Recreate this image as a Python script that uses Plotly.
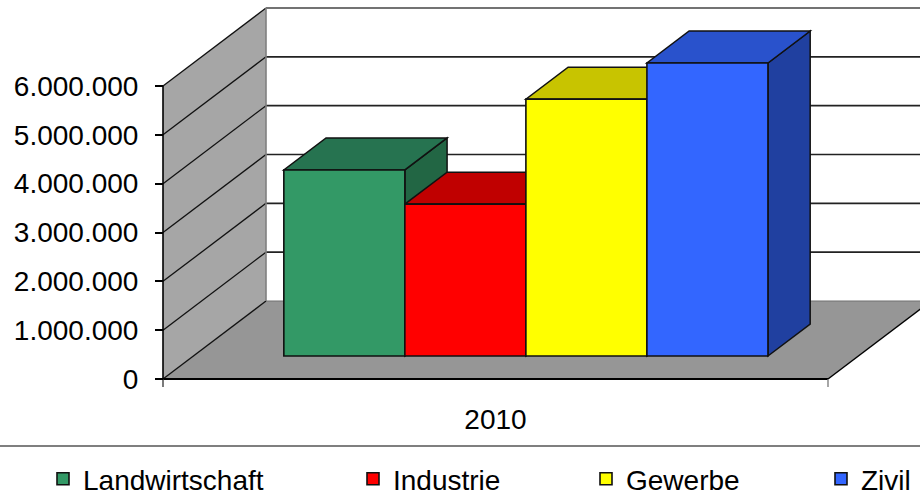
import plotly.graph_objects as go

# ---------------- data ----------------
CATEGORY = ["2010"]
SERIES = ["Landwirtschaft", "Industrie", "Gewerbe", "Zivil"]
VALUES = [3810000, 3110000, 5260000, 6000000]
TICK_VALUES = [0, 1000000, 2000000, 3000000, 4000000, 5000000, 6000000]
FRONT_COLORS = ["#339966", "#FF0000", "#FFFF00", "#3366FF"]
TOP_COLORS = ["#267350", "#C00000", "#C8C400", "#2952CC"]
SIDE_COLORS = ["#226644", "#990000", "#A6A300", "#2040A0"]

# ---------------- layout geometry (pixels) ----------------
W, H = 920, 496
FLOOR_Y = 379            # front floor edge (value 0 on the front axis)
AXIS_X = 163             # front vertical axis
CAT_RIGHT_X = 828        # right end of front floor edge
DEPTH_DX, DEPTH_DY = 103, 78
PX_PER_UNIT = 293 / 6000000.0
BAR_F0, BAR_F1 = 0.295, 0.705     # bar depth position (fraction of floor depth)
BARGAP = 0.272
FONT = "Liberation Sans, Arial, sans-serif"

cat_w = CAT_RIGHT_X - AXIS_X                  # px per category unit
bar_dx0 = BAR_F0 * DEPTH_DX
bar_dy0 = BAR_F0 * DEPTH_DY
bar_center_px = (AXIS_X + CAT_RIGHT_X) / 2 + bar_dx0
bar_base_py = FLOOR_Y - bar_dy0
depth_dx_units = (BAR_F1 - BAR_F0) * DEPTH_DX / cat_w
depth_dy_units = (BAR_F1 - BAR_F0) * DEPTH_DY / PX_PER_UNIT

x_range = [(0 - bar_center_px) / cat_w, (W - bar_center_px) / cat_w]
y_range = [-(FLOOR_Y - bar_base_py) / PX_PER_UNIT, bar_base_py / PX_PER_UNIT]
y2_range = [0, FLOOR_Y / PX_PER_UNIT]


def P(px, py):
    return px / W, (FLOOR_Y - py) / FLOOR_Y


def yf(v):
    return FLOOR_Y - v * PX_PER_UNIT


def poly(points):
    pts = [P(x, y) for x, y in points]
    return "M " + " L ".join(f"{x:.5f},{y:.5f}" for x, y in pts) + " Z"


def seg(x0, y0, x1, y1, color="#000000", width=1.5):
    a = P(x0, y0)
    b = P(x1, y1)
    return dict(type="line", xref="paper", yref="paper", x0=a[0], y0=a[1], x1=b[0], y1=b[1],
                line=dict(color=color, width=width), layer="below")


shapes = []
top_v = TICK_VALUES[-1]
# left wall
shapes.append(dict(type="path", xref="paper", yref="paper", layer="below",
                   path=poly([(AXIS_X, yf(0)), (AXIS_X, yf(top_v)),
                              (AXIS_X + DEPTH_DX, yf(top_v) - DEPTH_DY),
                              (AXIS_X + DEPTH_DX, yf(0) - DEPTH_DY)]),
                   fillcolor="#A6A6A6", line=dict(width=0)))
# floor
shapes.append(dict(type="path", xref="paper", yref="paper", layer="below",
                   path=poly([(AXIS_X, FLOOR_Y), (CAT_RIGHT_X, FLOOR_Y),
                              (CAT_RIGHT_X + DEPTH_DX, FLOOR_Y - DEPTH_DY),
                              (AXIS_X + DEPTH_DX, FLOOR_Y - DEPTH_DY)]),
                   fillcolor="#969696", line=dict(width=0)))
# gridlines on left wall and back wall
for v in TICK_VALUES:
    shapes.append(seg(AXIS_X, yf(v), AXIS_X + DEPTH_DX, yf(v) - DEPTH_DY, "#111111", 1.3))
    if v > 0:
        shapes.append(seg(AXIS_X + DEPTH_DX, yf(v) - DEPTH_DY, CAT_RIGHT_X + DEPTH_DX,
                          yf(v) - DEPTH_DY, "#222222" if v < top_v else "#444444", 1.6))
# back wall left edge and floor back edge
shapes.append(seg(AXIS_X + DEPTH_DX, yf(top_v) - DEPTH_DY, AXIS_X + DEPTH_DX,
                  FLOOR_Y - DEPTH_DY, "#808080", 1.6))
shapes.append(seg(AXIS_X + DEPTH_DX, FLOOR_Y - DEPTH_DY, CAT_RIGHT_X + DEPTH_DX,
                  FLOOR_Y - DEPTH_DY, "#707070", 1.2))
# front wall edge, floor edges
shapes.append(seg(AXIS_X, yf(top_v), AXIS_X, FLOOR_Y, "#000000", 1.6))
shapes.append(seg(AXIS_X, FLOOR_Y, CAT_RIGHT_X, FLOOR_Y, "#000000", 2))
shapes.append(seg(CAT_RIGHT_X, FLOOR_Y, CAT_RIGHT_X + DEPTH_DX, FLOOR_Y - DEPTH_DY, "#000000", 1.5))
# category tick marks
shapes.append(seg(AXIS_X, FLOOR_Y, AXIS_X, FLOOR_Y + 8, "#333333", 1.3))
shapes.append(seg(CAT_RIGHT_X, FLOOR_Y, CAT_RIGHT_X, FLOOR_Y + 8, "#777777", 1.3))
# separator line above legend
shapes.append(seg(0, 446, W, 446, "#7F7F7F", 2))

# bar top & side faces (data coordinates)
n = len(SERIES)
bw = (1 - BARGAP) / n
for i, v in enumerate(VALUES):
    x0 = -(1 - BARGAP) / 2 + i * bw
    x1 = x0 + bw
    dx, dy = depth_dx_units, depth_dy_units
    side = f"M {x1},{0} L {x1 + dx},{dy} L {x1 + dx},{v + dy} L {x1},{v} Z"
    top = f"M {x0},{v} L {x1},{v} L {x1 + dx},{v + dy} L {x0 + dx},{v + dy} Z"
    shapes.append(dict(type="path", xref="x", yref="y", layer="below", path=side,
                       fillcolor=SIDE_COLORS[i], line=dict(color="#111111", width=1.5)))
    shapes.append(dict(type="path", xref="x", yref="y", layer="below", path=top,
                       fillcolor=TOP_COLORS[i], line=dict(color="#111111", width=1.5)))

fig = go.Figure()
legend_names = ["legend", "legend2", "legend3", "legend4"]
for i, name in enumerate(SERIES):
    fig.add_trace(go.Bar(x=[0], y=[VALUES[i]], name=name, marker=dict(
        color=FRONT_COLORS[i], line=dict(color="#111111", width=1.6)),
        legend=legend_names[i], hoverinfo="name+y"))

# helper trace for the front value axis
fig.add_trace(go.Scatter(x=[0] * len(TICK_VALUES), y=TICK_VALUES, yaxis="y2", mode="none",
                         showlegend=False, hoverinfo="skip"))

legend_text_x = [83, 393, 626, 861]
legend_common = dict(orientation="h", yanchor="middle", xanchor="left",
                     xref="container", yref="container", y=1 - 479 / H,
                     font=dict(family=FONT, size=28, color="#000000"), bgcolor="rgba(0,0,0,0)",
                     borderwidth=0)

layout_legends = {}
for i, ln in enumerate(legend_names):
    layout_legends[ln] = dict(legend_common, x=(legend_text_x[i] - 40) / W)

fig.update_layout(
    width=W, height=H,
    margin=dict(l=0, r=0, t=0, b=H - FLOOR_Y, pad=0, autoexpand=False),
    paper_bgcolor="#FFFFFF", plot_bgcolor="rgba(0,0,0,0)",
    barmode="group", bargap=BARGAP, bargroupgap=0,
    separators=",.",
    font=dict(family=FONT, size=28, color="#000000"),
    xaxis=dict(range=x_range, showgrid=False, zeroline=False, showline=False, automargin=False,
               tickvals=[-bar_dx0 / cat_w], ticktext=CATEGORY, ticks="",
               ticklabelstandoff=21, tickfont=dict(family=FONT, size=28, color="#000000")),
    yaxis=dict(range=y_range, visible=False, showgrid=False, zeroline=False, automargin=False),
    yaxis2=dict(range=y2_range, overlaying="y", anchor="free", position=AXIS_X / W, side="left",
                showgrid=False, zeroline=False, showline=False, tickvals=TICK_VALUES, automargin=False,
                tickformat=",d", ticks="outside", ticklen=8, tickwidth=1.5, tickcolor="#000000",
                ticklabelstandoff=11, tickfont=dict(family=FONT, size=28, color="#000000")),
    shapes=shapes,
    showlegend=True,
    **layout_legends,
)

fig.write_html(
    "out.html",
    config={"displayModeBar": False},
    post_script="document.body.style.margin='0';document.body.style.padding='0';"
                "document.body.style.overflow='hidden';",
)
